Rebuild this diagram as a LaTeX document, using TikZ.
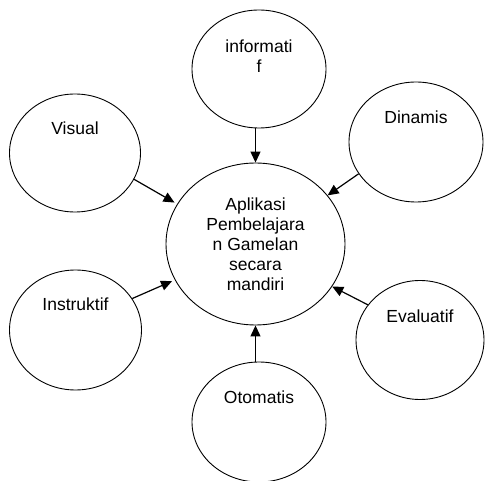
\documentclass[tikz,border=0pt]{standalone}
\usepackage{fontspec}
\setmainfont{Liberation Sans}
\usetikzlibrary{arrows.meta,shapes.geometric}

\begin{document}
\begin{tikzpicture}[x=1pt, y=-1pt,
  font=\fontsize{17.5}{20}\selectfont,
  bubble/.style={draw, ellipse, line width=0.9pt, inner sep=0pt,
    minimum width=133pt, minimum height=119pt},
  lbl/.style={align=center, inner sep=0pt},
  arr/.style={-{Triangle[length=11pt,width=10pt]}, line width=1.2pt}]
\useasboundingbox (0,0) rectangle (485,481);
% centre
\node[bubble, minimum width=179pt, minimum height=162pt, align=center] (app) at (255.5,244)
  {Aplikasi\\Pembelajara\\n Gamelan\\secara\\mandiri};
% outer bubbles
\node[bubble, minimum width=134pt, minimum height=118pt] (info) at (259,69) {};
\node[bubble, minimum width=131pt, minimum height=118pt] (visual) at (75,153) {};
\node[bubble, minimum width=134pt, minimum height=120pt] (dinamis) at (416,142) {};
\node[bubble, minimum width=132pt, minimum height=120pt] (instr) at (75.5,330) {};
\node[bubble, minimum width=128pt, minimum height=119pt] (eval) at (420,340) {};
\node[bubble, minimum width=134pt, minimum height=120pt] (oto) at (259,422) {};
% texts
\node[lbl] (infotxt) at ([yshift=13pt]info.center) {informati\\f};
\node[lbl] (visualtxt) at ([yshift=25pt]visual.center) {Visual};
\node[lbl] (dinamistxt) at ([yshift=25pt]dinamis.center) {Dinamis};
\node[lbl] (instrtxt) at ([yshift=26pt]instr.center) {Instruktif};
\node[lbl] (evaltxt) at ([yshift=24pt]eval.center) {Evaluatif};
\node[lbl] (ototxt) at ([yshift=25pt]oto.center) {Otomatis};
% arrows
\draw[arr] (app.north |- info.south) -- (app.north);
\draw[arr] (app.south |- oto.north) -- (app.south);
\draw[arr, shorten >=3pt] (visual.-24) -- (app.153);
\draw[arr] (dinamis.-151) -- (app.34);
\draw[arr, shorten >=3pt] (instr.29) -- (app.204);
\draw[arr] (eval.146) -- (app.-29);
\end{tikzpicture}
\end{document}
